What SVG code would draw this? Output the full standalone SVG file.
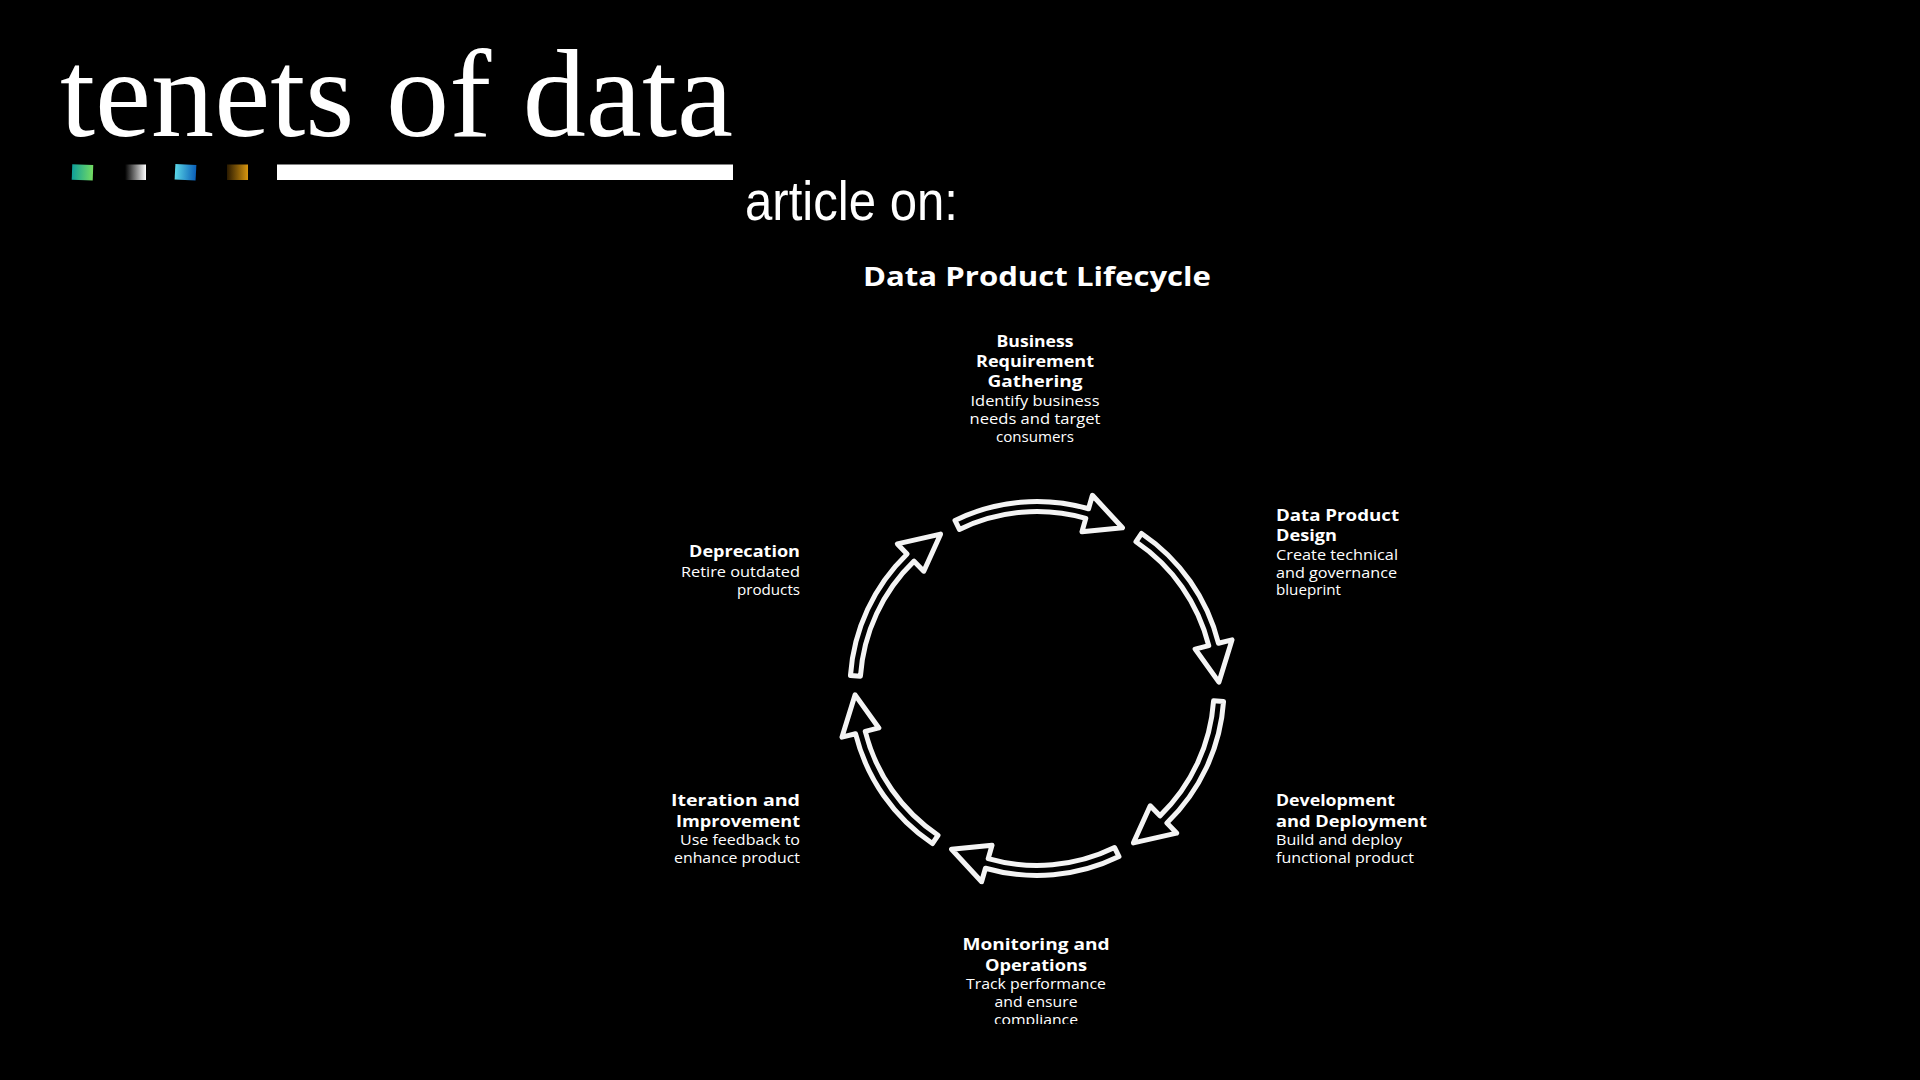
<svg xmlns="http://www.w3.org/2000/svg" width="1920" height="1080" viewBox="0 0 1920 1080">
<style>
.t{fill:#ffffff;font-family:"Open Sans","Noto Sans","DejaVu Sans",sans-serif;}
.b{font-weight:700;font-size:16px;}
.r{font-weight:400;font-size:14.5px;}
.arrow{fill:#000;stroke:#f4f4f4;stroke-width:5;stroke-linejoin:round;}
</style>
<defs>
<linearGradient id="g1" x1="0" y1="0" x2="1" y2="0"><stop offset="0" stop-color="#0f9f9a"/><stop offset="1" stop-color="#74dc62"/></linearGradient>
<linearGradient id="g2" x1="0" y1="0" x2="1" y2="0"><stop offset="0" stop-color="#000"/><stop offset="1" stop-color="#ffffff"/></linearGradient>
<linearGradient id="g3" x1="0" y1="0" x2="1" y2="0"><stop offset="0" stop-color="#5ad6e6"/><stop offset="1" stop-color="#0a5fb8"/></linearGradient>
<linearGradient id="g4" x1="0" y1="0" x2="1" y2="0"><stop offset="0" stop-color="#2a1a00"/><stop offset="1" stop-color="#d8960f"/></linearGradient>
<path id="arr" d="M 0 -187 A 187 187 0 0 1 125.13 -138.97 L 134.50 -149.37 L 147.24 -106.98 L 109.07 -121.13 L 118.44 -131.54 A 177 177 0 0 0 0 -177 Z"/>
<clipPath id="clipBottom"><rect x="0" y="0" width="1920" height="1024"/></clipPath>
</defs>
<rect x="0" y="0" width="1920" height="1080" fill="#000"/>

<g id="header">
<text x="60" y="136" fill="#fff" font-family="'Liberation Serif','DejaVu Serif',serif" font-size="124" textLength="673" lengthAdjust="spacingAndGlyphs">tenets of data</text>
<rect x="72" y="164.5" width="21" height="15.5" fill="url(#g1)" transform="rotate(2 82 172)"/>
<rect x="125" y="164.5" width="21" height="15.5" fill="url(#g2)"/>
<rect x="175" y="164.5" width="21" height="15.5" fill="url(#g3)" transform="rotate(3 185 172)"/>
<rect x="227" y="164.5" width="21" height="15.5" fill="url(#g4)"/>
<rect x="277" y="164.5" width="456" height="15.5" fill="#fff"/>
<text x="745" y="220" fill="#fff" font-family="'Liberation Sans','DejaVu Sans',sans-serif" font-size="56" textLength="213" lengthAdjust="spacingAndGlyphs">article on:</text>
</g>

<g id="diagram-title">
<text class="t" x="1037" y="286" text-anchor="middle" font-weight="700" font-size="27" textLength="348" lengthAdjust="spacingAndGlyphs">Data Product Lifecycle</text>
</g>

<g id="connectors">
<use href="#arr" class="arrow" transform="translate(1037 688.5) rotate(-26)"/>
<use href="#arr" class="arrow" transform="translate(1037 688.5) rotate(34)"/>
<use href="#arr" class="arrow" transform="translate(1037 688.5) rotate(94)"/>
<use href="#arr" class="arrow" transform="translate(1037 688.5) rotate(154)"/>
<use href="#arr" class="arrow" transform="translate(1037 688.5) rotate(214)"/>
<use href="#arr" class="arrow" transform="translate(1037 688.5) rotate(274)"/>
</g>

<g id="node-business" text-anchor="middle">
<text class="t b" x="1035" y="347" textLength="77" lengthAdjust="spacingAndGlyphs">Business</text>
<text class="t b" x="1035" y="367" textLength="118" lengthAdjust="spacingAndGlyphs">Requirement</text>
<text class="t b" x="1035" y="387" textLength="95" lengthAdjust="spacingAndGlyphs">Gathering</text>
<text class="t r" x="1035" y="406" textLength="129" lengthAdjust="spacingAndGlyphs">Identify business</text>
<text class="t r" x="1035" y="424" textLength="131" lengthAdjust="spacingAndGlyphs">needs and target</text>
<text class="t r" x="1035" y="442" textLength="78" lengthAdjust="spacingAndGlyphs">consumers</text>
</g>

<g id="node-design">
<text class="t b" x="1276" y="521" textLength="123" lengthAdjust="spacingAndGlyphs">Data Product</text>
<text class="t b" x="1276" y="541" textLength="61" lengthAdjust="spacingAndGlyphs">Design</text>
<text class="t r" x="1276" y="560" textLength="122" lengthAdjust="spacingAndGlyphs">Create technical</text>
<text class="t r" x="1276" y="578" textLength="121" lengthAdjust="spacingAndGlyphs">and governance</text>
<text class="t r" x="1276" y="595" textLength="65" lengthAdjust="spacingAndGlyphs">blueprint</text>
</g>

<g id="node-development">
<text class="t b" x="1276" y="806" textLength="119" lengthAdjust="spacingAndGlyphs">Development</text>
<text class="t b" x="1276" y="827" textLength="151" lengthAdjust="spacingAndGlyphs">and Deployment</text>
<text class="t r" x="1276" y="845" textLength="126" lengthAdjust="spacingAndGlyphs">Build and deploy</text>
<text class="t r" x="1276" y="863" textLength="138" lengthAdjust="spacingAndGlyphs">functional product</text>
</g>

<g id="node-monitoring" text-anchor="middle" clip-path="url(#clipBottom)">
<text class="t b" x="1036" y="950" textLength="147" lengthAdjust="spacingAndGlyphs">Monitoring and</text>
<text class="t b" x="1036" y="971" textLength="102" lengthAdjust="spacingAndGlyphs">Operations</text>
<text class="t r" x="1036" y="989" textLength="140" lengthAdjust="spacingAndGlyphs">Track performance</text>
<text class="t r" x="1036" y="1007" textLength="83" lengthAdjust="spacingAndGlyphs">and ensure</text>
<text class="t r" x="1036" y="1025" textLength="84" lengthAdjust="spacingAndGlyphs">compliance</text>
</g>

<g id="node-iteration" text-anchor="end">
<text class="t b" x="800" y="806" textLength="129" lengthAdjust="spacingAndGlyphs">Iteration and</text>
<text class="t b" x="800" y="827" textLength="124" lengthAdjust="spacingAndGlyphs">Improvement</text>
<text class="t r" x="800" y="845" textLength="120" lengthAdjust="spacingAndGlyphs">Use feedback to</text>
<text class="t r" x="800" y="863" textLength="126" lengthAdjust="spacingAndGlyphs">enhance product</text>
</g>

<g id="node-deprecation" text-anchor="end">
<text class="t b" x="800" y="557" textLength="111" lengthAdjust="spacingAndGlyphs">Deprecation</text>
<text class="t r" x="800" y="577" textLength="119" lengthAdjust="spacingAndGlyphs">Retire outdated</text>
<text class="t r" x="800" y="595" textLength="63" lengthAdjust="spacingAndGlyphs">products</text>
</g>
</svg>
